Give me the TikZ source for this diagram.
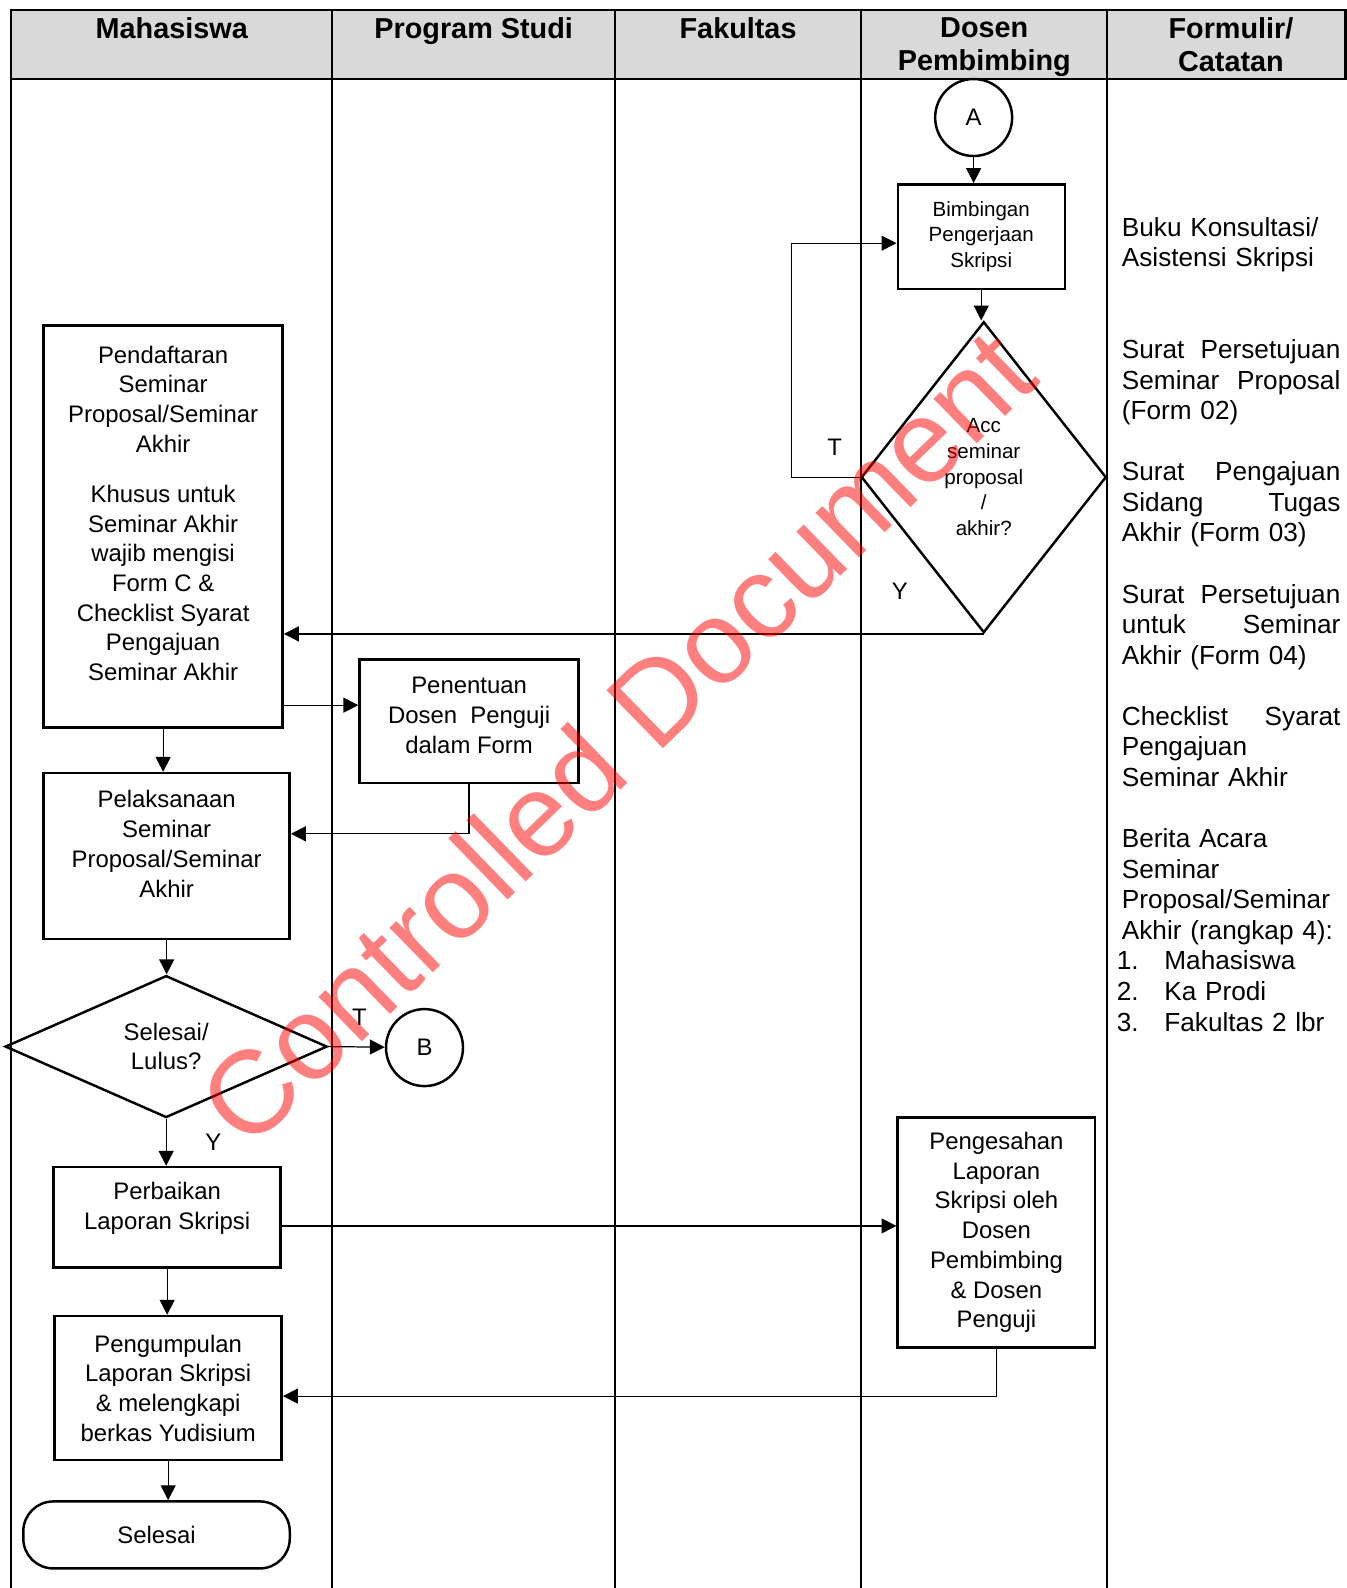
\documentclass[tikz,border=0pt]{standalone}
\usepackage{fontspec}
\setmainfont{Liberation Sans}
\usetikzlibrary{arrows.meta,shapes.geometric}
\newcommand{\boxfont}{\fontsize{13.6}{16.9}\selectfont}
\newcommand{\smallboxfont}{\fontsize{11.7}{14.7}\selectfont}
\newcommand{\headfont}{\fontsize{16.4}{18.8}\selectfont\bfseries}
\newcommand{\notefont}{\fontsize{14.9}{17.4}\selectfont}

\begin{document}
\begin{tikzpicture}[x=0.020263cm, y=-0.020263cm,
  proses/.style={draw, line width=1.4pt, align=center, font=\boxfont, inner sep=0pt},
  keputusan/.style={draw, diamond, line width=1.4pt, align=center, font=\boxfont, inner sep=0pt},
  konektor/.style={draw, circle, line width=1.4pt, font=\boxfont, minimum size=1.54cm, inner sep=0pt},
  kepala/.style={anchor=north, align=center, font=\headfont, inner sep=0pt},
  tanda/.style={font=\boxfont, inner sep=0pt},
  catatan/.style={anchor=north west, inner sep=0pt, text width=4.37cm, align=left, font=\notefont},
  alur/.style={draw, line width=0.7pt, -{Triangle[length=8.5pt,width=8.5pt]}},
  lane/.style={line width=1.1pt}]

  \useasboundingbox (0,0) rectangle (1329.5,1567.4);

  %% header and lanes
  \draw[fill=black!15, line width=1.4pt] (11,10) rectangle (1328,78);
  \draw[lane] (11,10) -- (11,1568);
  \draw[lane] (328,10) -- (328,1568);
  \draw[lane] (607,10) -- (607,1568);
  \draw[lane] (850,10) -- (850,1568);
  \draw[lane] (1093,10) -- (1093,1568);

  \node[kepala] (mhs) at (169.5,17) {Mahasiswa};
  \node[kepala] (prodi) at (467.5,17) {Program Studi};
  \node[kepala] (fak) at (728.5,17) {Fakultas};
  \node[kepala] (dosen) at (971.5,17) {Dosen\\Pembimbing};
  \node[kepala] (form) at (1215,17) {Formulir/\\Catatan};

  %% Dosen Pembimbing
  \node[konektor] (a) at (961,116) {A};
  \node[proses, font=\smallboxfont, minimum width=3.34cm, minimum height=2.09cm] (bimbingan) at (968.5,233.5) {Bimbingan\\Pengerjaan\\Skripsi};
  \node[keputusan, font=\smallboxfont, minimum width=4.9cm, minimum height=6.22cm, aspect=0.8] (acc) at (971,471) {Acc\\seminar\\proposal\\/\\akhir?};
  \node[proses, minimum width=3.95cm, minimum height=4.6cm] (pengesahan) at (983.5,1216.5) {Pengesahan\\Laporan\\Skripsi oleh\\Dosen\\Pembimbing\\\& Dosen\\Penguji};

  %% Mahasiswa
  \node[proses, minimum width=4.78cm, minimum height=8.04cm, text depth=15pt] (pendaftaran) at (161,519.5) {Pendaftaran\\Seminar\\Proposal/Seminar\\Akhir\\[11.6pt]Khusus untuk\\Seminar Akhir\\wajib mengisi\\Form C \&\\Checklist Syarat\\Pengajuan\\Seminar Akhir};
  \node[proses, minimum width=4.92cm, minimum height=3.32cm, text depth=14pt] (pelaksanaan) at (164.5,845) {Pelaksanaan\\Seminar\\Proposal/Seminar\\Akhir};
  \node[keputusan, minimum width=6.44cm, minimum height=2.84cm, aspect=2.2] (lulus) at (164,1033) {Selesai/\\Lulus?};
  \node[konektor] (b) at (419,1034) {B};
  \node[proses, minimum width=4.54cm, minimum height=2.01cm, text depth=13pt] (perbaikan) at (165,1201.5) {Perbaikan\\Laporan Skripsi};
  \node[proses, minimum width=4.54cm, minimum height=2.88cm] (pengumpulan) at (166,1370) {Pengumpulan\\Laporan Skripsi\\\& melengkapi\\berkas Yudisium};
  \node[proses, rounded corners=0.6cm, minimum width=5.33cm, minimum height=1.34cm] (selesai) at (154.5,1515) {Selesai};

  %% Program Studi
  \node[proses, minimum width=4.38cm, minimum height=2.47cm, text depth=7pt] (penentuan) at (463,712) {Penentuan\\Dosen\ \ Penguji\\dalam Form};

  %% Formulir / Catatan
  \node[catatan] (catatan) at (1107,214) {Buku Konsultasi/\\
    Asistensi Skripsi\\[34.8pt]
    Surat\hfill Persetujuan\\
    Seminar\hfill Proposal\\
    (Form 02)\\[17.4pt]
    Surat\hfill Pengajuan\\
    Sidang\hfill Tugas\\
    Akhir (Form 03)\\[17.4pt]
    Surat\hfill Persetujuan\\
    untuk\hfill Seminar\\
    Akhir (Form 04)\\[17.4pt]
    Checklist\hfill Syarat\\
    Pengajuan\\
    Seminar Akhir\\[17.4pt]
    Berita Acara\\
    Seminar\\
    Proposal/Seminar\\
    Akhir (rangkap 4):\\
    \hspace*{-0.1cm}\makebox[0.95cm][l]{1.}Mahasiswa\\
    \hspace*{-0.1cm}\makebox[0.95cm][l]{2.}Ka Prodi\\
    \hspace*{-0.1cm}\makebox[0.95cm][l]{3.}Fakultas 2 lbr};

  %% connectors
  \draw[alur] (a) -- (a |- bimbingan.north); %% A->Bimbingan
  \draw[alur] (bimbingan.south) -- (bimbingan.south |- acc.north); %% Bimbingan->Acc
  \draw[alur] (acc.west) -- ++(-68,0) node[tanda, pos=0.37, above=12pt]{T} |- (bimbingan.west |- 0,240); %% Acc->Bimbingan
  \draw[alur] (acc.south) -- node[tanda, pos=0.12, above=19pt]{Y} (acc.south -| pendaftaran.east); %% Acc->Pendaftaran
  \draw[alur] (pendaftaran.east |- 0,696) -- (penentuan.west |- 0,696); %% Pendaftaran->Penentuan
  \draw[alur] (penentuan.south) |- (pelaksanaan.east |- 0,823); %% Penentuan->Pelaksanaan
  \draw[alur] (pendaftaran.south) -- (pendaftaran.south |- pelaksanaan.north); %% Pendaftaran->Pelaksanaan
  \draw[alur] (pelaksanaan.south) -- (pelaksanaan.south |- lulus.north); %% Pelaksanaan->Lulus
  \draw[alur] (lulus.east) -- node[tanda, pos=0.55, above=11.6pt]{T} (b); %% Lulus->B
  \draw[alur] (lulus.south) -- node[tanda, right=22pt]{Y} (lulus.south |- perbaikan.north); %% Lulus->Perbaikan
  \draw[alur] (perbaikan.east |- 0,1210) -- (pengesahan.west |- 0,1210); %% Perbaikan->Pengesahan
  \draw[alur] (pengesahan.south) |- (pengumpulan.east |- 0,1378); %% Pengesahan->Pengumpulan
  \draw[alur] (perbaikan.south) -- (perbaikan.south |- pengumpulan.north); %% Perbaikan->Pengumpulan
  \draw[alur] (pengumpulan.south) -- (pengumpulan.south |- selesai.north); %% Pengumpulan->Selesai

  %% watermark
  \node[rotate=44.2, text=red, text opacity=0.5, font=\fontsize{67}{67}\selectfont] (watermark) at (608,727) {Controlled Document};
\end{tikzpicture}
\end{document}
